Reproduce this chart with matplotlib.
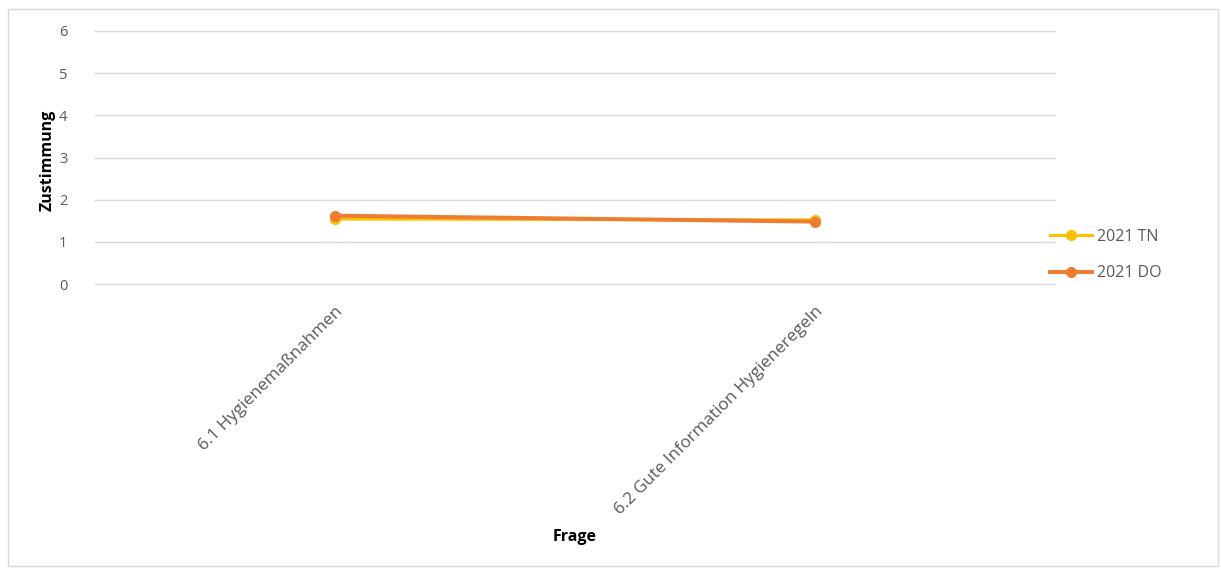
import matplotlib
matplotlib.use("Agg")
import matplotlib.pyplot as plt
from matplotlib.patches import Rectangle

categories = ["6.1 Hygienemaßnahmen", "6.2 Gute Information Hygieneregeln"]
tn_values = [1.54, 1.52]
do_values = [1.62, 1.48]
series_names = ["2021 TN", "2021 DO"]
y_ticks = [0, 1, 2, 3, 4, 5, 6]

plt.rcParams['font.family'] = ['Open Sans', 'DejaVu Sans']
W, H = 1221, 570
fig = plt.figure(figsize=(W / 100, H / 100), dpi=100)
fig.patches.append(Rectangle((8 / W, 1 - 566 / H), (1218 - 8) / W, (566 - 9) / H,
                             transform=fig.transFigure, fill=False,
                             edgecolor='#d9d9d9', linewidth=1))

ax = fig.add_axes([95 / W, 1 - 284 / H, (1055 - 95) / W, (284 - 31) / H])
x = list(range(len(categories)))
ax.plot(x, tn_values, color='#FFC000', linewidth=2.2, marker='o', markersize=7,
        label=series_names[0], zorder=3)
ax.plot(x, do_values, color='#ED7D31', linewidth=2.9, marker='o', markersize=7,
        label=series_names[1], zorder=4)

ax.set_xlim(-0.5, len(categories) - 0.5)
ax.set_ylim(0, 6)
ax.set_yticks(y_ticks)
ax.yaxis.grid(True, color='#d9d9d9', linewidth=1)
for gl in ax.get_ygridlines():
    gl.set_clip_on(False)
ax.set_axisbelow(True)
for s in ax.spines.values():
    s.set_visible(False)
ax.tick_params(axis='both', length=0, colors='#595959', labelsize=10.5)
ax.tick_params(axis='y', pad=20)
ax.set_xticks(x)
ax.set_xticklabels(categories, rotation=45, ha='right', rotation_mode='anchor',
                   color='#595959', fontsize=12.3)
ax.tick_params(axis='x', pad=14)

fig.text(575 / W, 1 - 537 / H, "Frage", ha='center', va='center',
         fontweight='bold', fontsize=11.5, color='black')
fig.text(48 / W, 1 - 160 / H, "Zustimmung", ha='center', va='center',
         rotation=90, fontweight='bold', fontsize=11.5, color='black')

leg = fig.legend(loc='center left', bbox_to_anchor=(1036 / W, 1 - 255 / H),
                 frameon=False, fontsize=11.5, handlelength=2.6,
                 labelspacing=1.3, handletextpad=0.3)
for t in leg.get_texts():
    t.set_color('#595959')

fig.savefig("out.png", dpi=100)
